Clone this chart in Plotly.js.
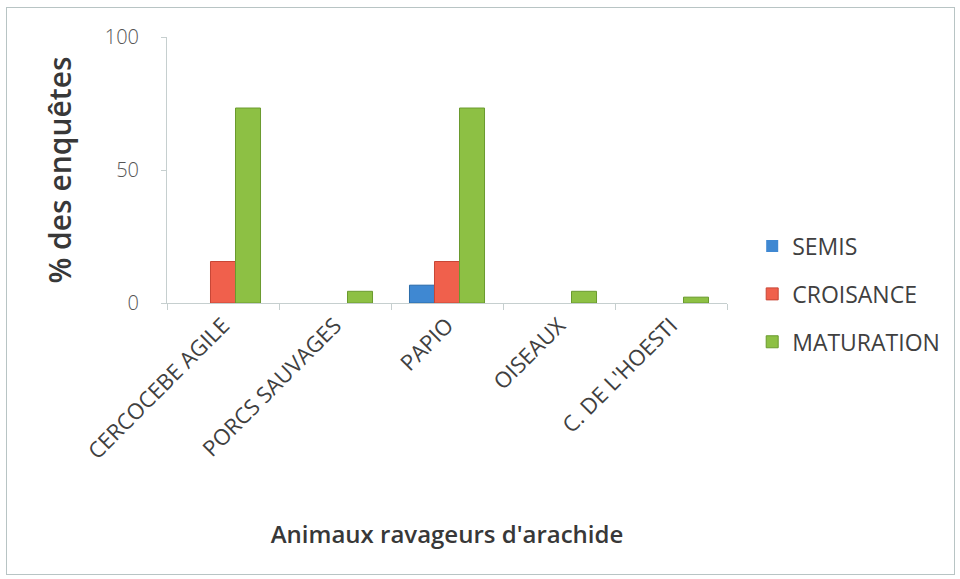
<!DOCTYPE html>
<html>
<head>
<meta charset="utf-8">
<script src="https://cdn.plot.ly/plotly-3.0.1.min.js"></script>
<style>
html,body{margin:0;padding:0;background:#fff;}
#wrap{position:relative;width:960px;height:579px;}
#chart{width:960px;height:579px;}
#frame{position:absolute;left:6px;top:7px;width:947px;height:566px;border:1px solid #b8c4c4;pointer-events:none;}
</style>
</head>
<body>
<div id="wrap"><div id="chart"></div><div id="frame"></div></div>
<script>
var categories = ["CERCOCEBE AGILE", "PORCS SAUVAGES", "PAPIO", "OISEAUX", "C. DE L'HOESTI"];
var semis = [0, 0, 6.7, 0, 0];
var croisance = [15.6, 0, 15.6, 0, 0];
var maturation = [73.3, 4.4, 73.3, 4.4, 2.2];
var seriesNames = ["SEMIS", "CROISANCE", "MATURATION"];
var yTicks = [0, 50, 100];

var fontFam = "Open Sans, Noto Sans, sans-serif";
var colors = ["#3f88d2", "#f0604c", "#8dc044"];
var lines = ["#2a6aa8", "#c84636", "#6a9a2e"];
var vals = [semis, croisance, maturation];

var traces = vals.map(function(v, i){
  return {
    type: "bar",
    name: seriesNames[i],
    x: categories,
    y: v,
    legendgroup: "g" + i,
    marker: {color: colors[i], line: {color: lines[i], width: v.map(function(d){ return d > 0 ? 1 : 0; })}},
    hoverinfo: "x+y+name"
  };
});

var layout = {
  width: 960, height: 579,
  margin: {l: 167, r: 233, t: 37, b: 276, pad: 0},
  paper_bgcolor: "#ffffff",
  plot_bgcolor: "#ffffff",
  barmode: "group",
  bargap: 0.33,
  bargroupgap: 0,
  showlegend: true,
  legend: {
    x: 1.045, y: 0.295, xanchor: "left", yanchor: "top",
    font: {family: fontFam, size: 23, color: "#404040"},
    tracegroupgap: 15,
    traceorder: "grouped",
    itemwidth: 30
  },
  xaxis: {
    type: "category",
    showline: true, linecolor: "#c6cfcf", linewidth: 1,
    ticks: "outside", ticklen: 6, tickcolor: "#c6cfcf",
    tickson: "boundaries",
    tickangle: -45,
    tickfont: {family: fontFam, size: 22, color: "#404040"},
    showgrid: false, zeroline: false,
    automargin: false,
    title: {text: "Animaux ravageurs d'arachide", font: {family: fontFam, size: 24, color: "#383838", weight: 600}, standoff: 62}
  },
  yaxis: {
    range: [0, 100],
    tickvals: yTicks,
    ticktext: yTicks.map(String),
    showline: true, linecolor: "#c6cfcf", linewidth: 1,
    ticks: "outside", ticklen: 5, tickcolor: "#c6cfcf",
    ticklabelstandoff: 18,
    tickfont: {family: fontFam, size: 20, color: "#555555", weight: 300},
    showgrid: false, zeroline: false,
    automargin: false,
    title: {text: "% des enquêtes", font: {family: fontFam, size: 30, color: "#383838", weight: 600}, standoff: 24}
  }
};

Plotly.newPlot("chart", traces, layout, {displayModeBar: false, staticPlot: true});
</script>
</body>
</html>
